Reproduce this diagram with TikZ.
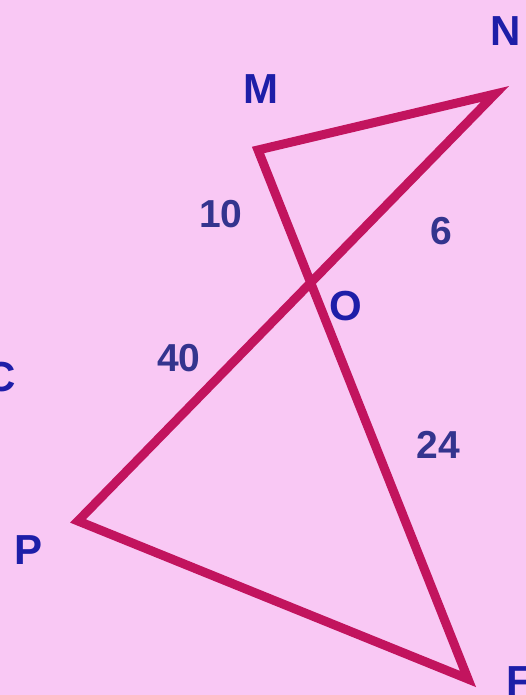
\documentclass[tikz,border=0pt]{standalone}
\usepackage{fontspec}
\setmainfont{Liberation Sans}
\definecolor{bgpink}{HTML}{F9C8F4}
\definecolor{linered}{HTML}{C2145E}
\definecolor{lblue}{HTML}{1E1EA8}
\definecolor{nblue}{HTML}{34348E}
\begin{document}
\begin{tikzpicture}[x=1pt,y=-1pt,
  seg/.style={draw=linered,line width=9pt,line join=miter,line cap=round},
  vlabel/.style={text=lblue,font=\fontsize{42}{42}\selectfont\bfseries,inner sep=0pt},
  nlabel/.style={text=nblue,font=\fontsize{39}{39}\selectfont\bfseries,inner sep=0pt}]
\fill[bgpink] (0,0) rectangle (526,695);
\useasboundingbox (0,0) rectangle (526,695);
\coordinate (M) at (258,150);
\coordinate (N) at (495,94);
\coordinate (P) at (78,521);
\coordinate (F) at (468,679);
\draw[seg] (P) -- (N) -- (M) -- (F) -- cycle;
\node[vlabel] (lN) at (506,31) {N};
\node[vlabel] (lM) at (261,89) {M};
\node[vlabel] (lO) at (346,306) {O};
\node[vlabel] (lP) at (29,550) {P};
\node[vlabel] (lC) at (1,377) {C};
\node[vlabel] (lF) at (519,681) {F};
\node[nlabel] (n10) at (221,214) {10};
\node[nlabel] (n6) at (441,231) {6};
\node[nlabel] (n40) at (179,358) {40};
\node[nlabel] (n24) at (438,445) {24};
\end{tikzpicture}
\end{document}
